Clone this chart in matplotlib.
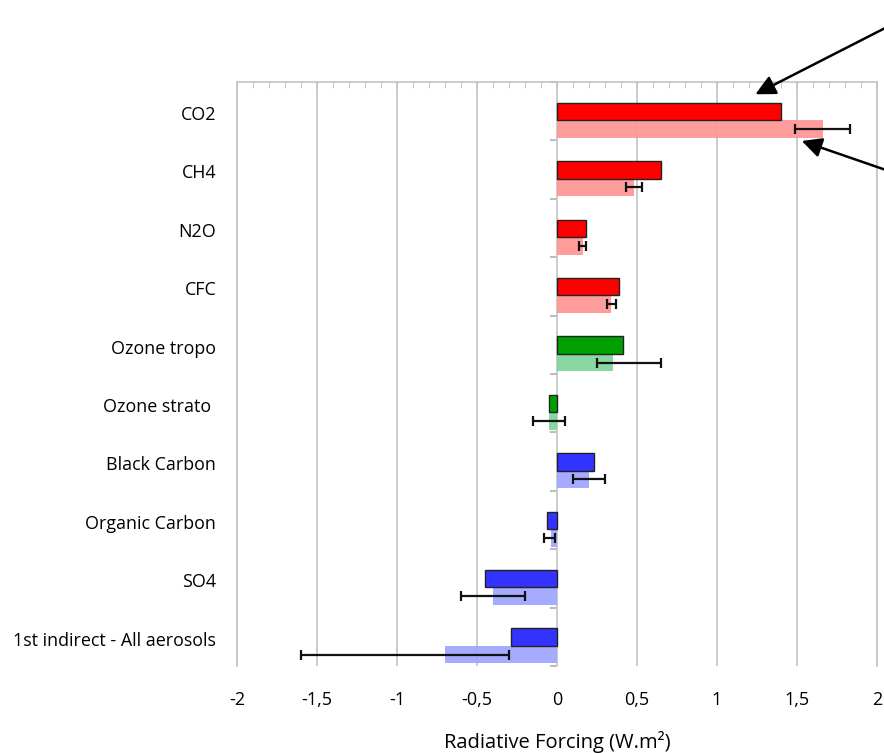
import matplotlib
matplotlib.use("Agg")
import matplotlib.pyplot as plt
import numpy as np

categories = ["CO2", "CH4", "N2O", "CFC", "Ozone tropo", "Ozone strato ",
              "Black Carbon", "Organic Carbon", "SO4", "1st indirect - All aerosols"]
model_vals = [1.40, 0.65, 0.18, 0.39, 0.41, -0.05, 0.23, -0.065, -0.45, -0.29]
ipcc_vals = [1.66, 0.48, 0.16, 0.34, 0.35, -0.05, 0.20, -0.04, -0.40, -0.70]
ipcc_low = [1.49, 0.43, 0.14, 0.31, 0.25, -0.15, 0.10, -0.08, -0.60, -1.60]
ipcc_high = [1.83, 0.53, 0.18, 0.37, 0.65, 0.05, 0.30, -0.01, -0.20, -0.30]
group = ["ghg", "ghg", "ghg", "ghg", "ozone", "ozone", "aer", "aer", "aer", "aer"]
dark_colors = {"ghg": "#FF0000", "ozone": "#00A000", "aer": "#3333FF"}
light_colors = {"ghg": "#FF9696", "ozone": "#7DD49B", "aer": "#9EA6FF"}
xticks = [-2, -1.5, -1, -0.5, 0, 0.5, 1, 1.5, 2]
xtick_labels = ["-2", "-1,5", "-1", "-0,5", "0", "0,5", "1", "1,5", "2"]
xlabel = "Radiative Forcing (W.m\u00b2)"

# arrow annotations: tip in data coords, tail in figure fraction
arrow_tips = [(1.24, 0.21), (1.53, 1.01)]
arrow_tails = [(1.02, 0.974), (1.02, 0.767)]

plt.rcParams['font.family'] = ['Open Sans', 'DejaVu Sans']

fig = plt.figure(figsize=(8.84, 7.53), dpi=100)
ax = fig.add_axes([237/884, 1-666/753, (877-237)/884, (666-82)/753])

n = len(categories)
pos = np.arange(n)
bar_h = 0.30
dark_y = pos + 0.355 + bar_h/2
light_y = pos + 0.655 + bar_h/2

ax.set_axisbelow(True)
ax.xaxis.grid(True, color="#c4c4c4", lw=1.2)

ax.barh(dark_y, model_vals, height=bar_h,
        color=[dark_colors[g] for g in group], edgecolor="#222222", lw=1.0, zorder=3)
ax.barh(light_y, ipcc_vals, height=bar_h,
        color=[light_colors[g] for g in group], edgecolor="none", alpha=0.93, zorder=2)
lo = np.array(ipcc_vals) - np.array(ipcc_low)
hi = np.array(ipcc_high) - np.array(ipcc_vals)
ax.errorbar(ipcc_vals, light_y, xerr=[lo, hi], fmt="none", ecolor="#111111",
            elinewidth=1.6, capsize=3.5, capthick=1.6, zorder=4)

ax.set_xlim(-2, 2)
ax.set_ylim(n, 0)
ax.set_xticks(xticks, xtick_labels)
ax.set_xticks(np.arange(-2, 2.01, 0.1), minor=True)
ax.tick_params(axis='x', which='both', bottom=False, top=True, direction='in',
               color="#c4c4c4", labelsize=13, pad=18)
ax.tick_params(axis='x', which='major', length=4)
ax.tick_params(axis='x', which='minor', length=4)
ax.set_yticks(pos + 0.53, categories)
ax.tick_params(axis='y', length=0, labelsize=12.9, pad=15)
ax.set_xlabel(xlabel, fontsize=14.5, labelpad=16)

for s in ["left", "right", "top"]:
    ax.spines[s].set_color("#c4c4c4")
    ax.spines[s].set_linewidth(1.2)
ax.spines["bottom"].set_visible(False)

sec = ax.secondary_yaxis(0.5)
sec.yaxis.set_ticks_position('left')
sec.set_yticks(np.arange(0, n + 1), labels=[])
sec.tick_params(axis='y', length=5, color="#b0b0b0", direction='out', width=1.2)
sec.spines['left'].set_color("#b0b0b0")
sec.spines['left'].set_linewidth(1.5)
sec.spines['right'].set_visible(False)

for tip, tail in zip(arrow_tips, arrow_tails):
    ax.annotate("", xy=tip, xycoords='data', xytext=tail, textcoords='figure fraction',
                arrowprops=dict(arrowstyle='-|>,head_length=1.2,head_width=0.6',
                                color='black', lw=1.8, shrinkA=0, shrinkB=0),
                annotation_clip=False)

fig.savefig("out.png", dpi=100)
